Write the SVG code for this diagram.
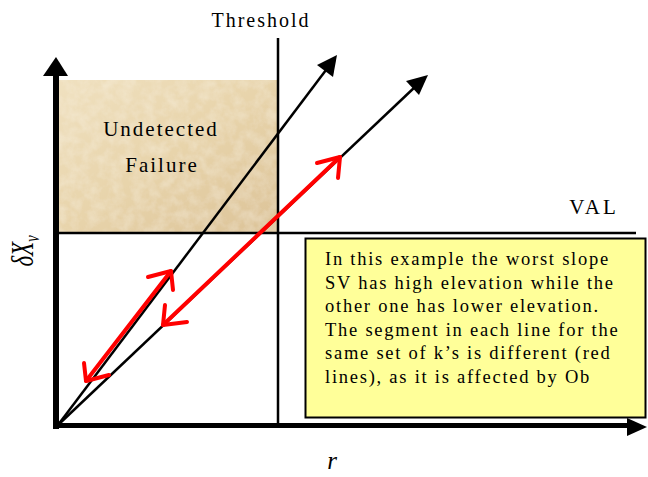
<svg xmlns="http://www.w3.org/2000/svg" width="648" height="477" viewBox="0 0 648 477">
<style>
.lbl{font-family:"Liberation Serif","Times New Roman",serif;fill:#000;}
.ax{stroke:#000;fill:none;}
.thin{stroke:#000;stroke-width:2.5;fill:none;}
.red{stroke:#ff0000;stroke-width:4;fill:none;stroke-linecap:round;stroke-linejoin:round;}
.head{fill:#000;}
</style>
<defs>
<linearGradient id="parch" x1="0" y1="0" x2="1" y2="1">
<stop offset="0" stop-color="#f0e1c0"/>
<stop offset="0.5" stop-color="#e8d4ab"/>
<stop offset="1" stop-color="#dcc398"/>
</linearGradient>
<filter id="grain" x="0" y="0" width="100%" height="100%">
<feTurbulence type="fractalNoise" baseFrequency="0.09" numOctaves="4" seed="3" result="n"/>
<feColorMatrix in="n" type="matrix" values="0 0 0 0 1  0 0 0 0 0.97  0 0 0 0 0.9  0 0 0 -1.6 1.05" result="spots"/>
<feComposite in="spots" in2="SourceGraphic" operator="atop"/>
</filter>
</defs>
<rect width="648" height="477" fill="#fff"/>

<g id="undetected-failure">
<rect x="59" y="80" width="219" height="153" fill="url(#parch)"/>
<rect x="59" y="80" width="219" height="153" fill="url(#parch)" filter="url(#grain)" opacity="0.35"/>
<text class="lbl" x="161" y="135.5" font-size="21" letter-spacing="2" text-anchor="middle">Undetected</text>
<text class="lbl" x="162" y="172" font-size="21" letter-spacing="2" text-anchor="middle">Failure</text>
</g>

<g id="note">
<rect x="305.5" y="238.5" width="340" height="179" fill="#ffff99" stroke="#000" stroke-width="2"/>
<text class="lbl" font-size="18.5" letter-spacing="1.75">
<tspan x="325" y="265">In this example the worst slope</tspan>
<tspan x="325" y="288.5">SV has high elevation while the</tspan>
<tspan x="325" y="312">other one has lower elevation.</tspan>
<tspan x="325" y="335.5">The segment in each line for the</tspan>
<tspan x="325" y="359">same set of k’s is different (red</tspan>
<tspan x="325" y="382.5">lines), as it is affected by Ob</tspan>
</text>
</g>

<g id="labels">
<text class="lbl" x="261" y="27" font-size="20" letter-spacing="2" text-anchor="middle">Threshold</text>
<text class="lbl" x="594" y="214" font-size="21" letter-spacing="3" text-anchor="middle">VAL</text>
<text class="lbl" x="332" y="469" font-size="25" font-style="italic" text-anchor="middle">r</text>
<text class="lbl" transform="translate(33,251) rotate(-90) scale(0.72,1)" font-size="32" font-style="italic" text-anchor="middle">δX<tspan font-size="20" dy="6">v</tspan></text>
</g>

<g id="connectors">
<line class="ax" x1="56" y1="74" x2="56" y2="429" stroke-width="6"/>
<polygon class="head" points="56,57 68,76 43,76"/>
<line class="ax" x1="53" y1="425.5" x2="628" y2="425.5" stroke-width="5"/>
<polygon class="head" points="647,427 627,418 627,436"/>
<line class="thin" x1="278" y1="38" x2="278" y2="426" stroke-width="3"/>
<line class="thin" x1="57" y1="233" x2="636" y2="233" stroke-width="3"/>
<line class="thin" x1="58" y1="425" x2="326" y2="70"/>
<polygon class="head" points="337,55 333,77 317,65"/>
<line class="thin" x1="58" y1="425" x2="416" y2="86"/>
<polygon class="head" points="428,75 419,95 406,81"/>
<polyline class="red" points="86,381 171,271"/>
<polyline class="red" points="148,277 171,271 173,290"/>
<polyline class="red" points="84,363 86,381 109,375"/>
<polyline class="red" points="163,325 340,157"/>
<polyline class="red" points="317,163 340,157 338,178"/>
<polyline class="red" points="165,305 163,325 187,322"/>
</g>
</svg>
